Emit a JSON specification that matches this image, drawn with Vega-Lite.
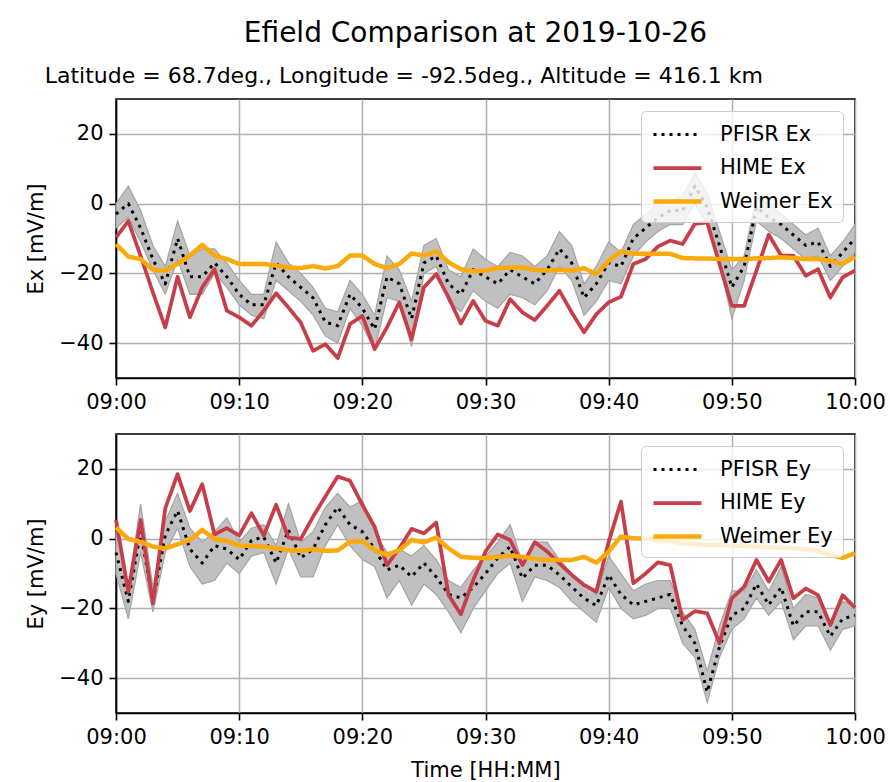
{
  "$schema": "https://vega.github.io/schema/vega-lite/v6.json",
  "background": "white",
  "padding": {"left": 24, "top": 20, "right": 4, "bottom": 4},
  "title": {"text": "Efield Comparison at 2019-10-26", "fontSize": 28, "font": "DejaVu Sans", "fontWeight": "normal", "color": "#000", "anchor": "middle", "offset": 16, "dx": 20},
  "datasets": {
    "ex": [
      {"t":0,"PFISR Ex":-3,"HIME Ex":-9.7,"Weimer Ex":-11.6,"lo":-7,"hi":0},
      {"t":1,"PFISR Ex":0,"HIME Ex":-5,"Weimer Ex":-15.2,"lo":-4,"hi":5},
      {"t":2,"PFISR Ex":-7,"HIME Ex":-15,"Weimer Ex":-15.9,"lo":-11,"hi":-2},
      {"t":3,"PFISR Ex":-16,"HIME Ex":-25.5,"Weimer Ex":-19,"lo":-19,"hi":-12},
      {"t":4,"PFISR Ex":-23,"HIME Ex":-35.5,"Weimer Ex":-19.2,"lo":-26,"hi":-18},
      {"t":5,"PFISR Ex":-10,"HIME Ex":-21,"Weimer Ex":-17.3,"lo":-16,"hi":-5},
      {"t":6,"PFISR Ex":-21,"HIME Ex":-32.6,"Weimer Ex":-14.9,"lo":-26,"hi":-15},
      {"t":7,"PFISR Ex":-21,"HIME Ex":-24,"Weimer Ex":-11.8,"lo":-26,"hi":-13},
      {"t":8,"PFISR Ex":-17,"HIME Ex":-18.8,"Weimer Ex":-14.9,"lo":-20,"hi":-13},
      {"t":9,"PFISR Ex":-21,"HIME Ex":-30.7,"Weimer Ex":-15.9,"lo":-24,"hi":-17},
      {"t":10,"PFISR Ex":-26,"HIME Ex":-32.6,"Weimer Ex":-17.3,"lo":-29,"hi":-22},
      {"t":11,"PFISR Ex":-29,"HIME Ex":-35,"Weimer Ex":-17.3,"lo":-32,"hi":-26},
      {"t":12,"PFISR Ex":-29,"HIME Ex":-30.7,"Weimer Ex":-17.3,"lo":-33,"hi":-26},
      {"t":13,"PFISR Ex":-17,"HIME Ex":-25.7,"Weimer Ex":-17.8,"lo":-22,"hi":-11},
      {"t":14,"PFISR Ex":-21,"HIME Ex":-29.8,"Weimer Ex":-18.3,"lo":-25,"hi":-17},
      {"t":15,"PFISR Ex":-24,"HIME Ex":-34.1,"Weimer Ex":-18.5,"lo":-28,"hi":-20},
      {"t":16,"PFISR Ex":-27,"HIME Ex":-42.2,"Weimer Ex":-17.9,"lo":-32,"hi":-24},
      {"t":17,"PFISR Ex":-34,"HIME Ex":-40.3,"Weimer Ex":-18.6,"lo":-38,"hi":-30},
      {"t":18,"PFISR Ex":-35,"HIME Ex":-44.3,"Weimer Ex":-17.9,"lo":-40,"hi":-31},
      {"t":19,"PFISR Ex":-26,"HIME Ex":-34.5,"Weimer Ex":-14.9,"lo":-30,"hi":-22},
      {"t":20,"PFISR Ex":-30,"HIME Ex":-32.2,"Weimer Ex":-14.9,"lo":-35,"hi":-26},
      {"t":21,"PFISR Ex":-36,"HIME Ex":-41.7,"Weimer Ex":-17.3,"lo":-42,"hi":-32},
      {"t":22,"PFISR Ex":-21,"HIME Ex":-35.5,"Weimer Ex":-18.5,"lo":-27,"hi":-15},
      {"t":23,"PFISR Ex":-23,"HIME Ex":-28.3,"Weimer Ex":-17.3,"lo":-28,"hi":-19},
      {"t":24,"PFISR Ex":-33,"HIME Ex":-38.9,"Weimer Ex":-14.3,"lo":-41,"hi":-28},
      {"t":25,"PFISR Ex":-17,"HIME Ex":-24,"Weimer Ex":-14.9,"lo":-20,"hi":-12},
      {"t":26,"PFISR Ex":-15,"HIME Ex":-20.2,"Weimer Ex":-13.7,"lo":-18,"hi":-10},
      {"t":27,"PFISR Ex":-23,"HIME Ex":-26.9,"Weimer Ex":-16.8,"lo":-28,"hi":-19},
      {"t":28,"PFISR Ex":-26,"HIME Ex":-34.4,"Weimer Ex":-18.8,"lo":-31,"hi":-21},
      {"t":29,"PFISR Ex":-19,"HIME Ex":-27.9,"Weimer Ex":-19.4,"lo":-25,"hi":-13},
      {"t":30,"PFISR Ex":-21,"HIME Ex":-33.6,"Weimer Ex":-19.2,"lo":-28,"hi":-16},
      {"t":31,"PFISR Ex":-23,"HIME Ex":-35,"Weimer Ex":-18.5,"lo":-30,"hi":-18},
      {"t":32,"PFISR Ex":-19,"HIME Ex":-27.4,"Weimer Ex":-18.3,"lo":-26,"hi":-14},
      {"t":33,"PFISR Ex":-21,"HIME Ex":-31.2,"Weimer Ex":-18.3,"lo":-27,"hi":-15},
      {"t":34,"PFISR Ex":-23,"HIME Ex":-33.4,"Weimer Ex":-19,"lo":-29,"hi":-18},
      {"t":35,"PFISR Ex":-19,"HIME Ex":-29.3,"Weimer Ex":-19.2,"lo":-25,"hi":-15},
      {"t":36,"PFISR Ex":-13,"HIME Ex":-25,"Weimer Ex":-19,"lo":-18,"hi":-8},
      {"t":37,"PFISR Ex":-17,"HIME Ex":-31.2,"Weimer Ex":-19.2,"lo":-22,"hi":-12},
      {"t":38,"PFISR Ex":-27,"HIME Ex":-36.9,"Weimer Ex":-18.5,"lo":-32,"hi":-23},
      {"t":39,"PFISR Ex":-23,"HIME Ex":-31.7,"Weimer Ex":-20.2,"lo":-28,"hi":-18},
      {"t":40,"PFISR Ex":-17,"HIME Ex":-28.3,"Weimer Ex":-16.4,"lo":-22,"hi":-11},
      {"t":41,"PFISR Ex":-18,"HIME Ex":-26.7,"Weimer Ex":-13.7,"lo":-23,"hi":-14},
      {"t":42,"PFISR Ex":-10,"HIME Ex":-17.3,"Weimer Ex":-14.4,"lo":-15,"hi":-6},
      {"t":43,"PFISR Ex":-7,"HIME Ex":-15.9,"Weimer Ex":-14.4,"lo":-11,"hi":-3},
      {"t":44,"PFISR Ex":-4,"HIME Ex":-12.3,"Weimer Ex":-14.4,"lo":-8,"hi":0},
      {"t":45,"PFISR Ex":-2,"HIME Ex":-10.6,"Weimer Ex":-14.4,"lo":-6,"hi":1},
      {"t":46,"PFISR Ex":-2,"HIME Ex":-11.6,"Weimer Ex":-15.6,"lo":-6,"hi":2},
      {"t":47,"PFISR Ex":5,"HIME Ex":-5.8,"Weimer Ex":-15.7,"lo":0,"hi":9},
      {"t":48,"PFISR Ex":-1,"HIME Ex":-5.4,"Weimer Ex":-15.7,"lo":-6,"hi":3},
      {"t":49,"PFISR Ex":-12,"HIME Ex":-17.3,"Weimer Ex":-15.9,"lo":-17,"hi":-8},
      {"t":50,"PFISR Ex":-24,"HIME Ex":-29.3,"Weimer Ex":-15.9,"lo":-33,"hi":-19},
      {"t":51,"PFISR Ex":-18,"HIME Ex":-29.3,"Weimer Ex":-15.9,"lo":-22,"hi":-15},
      {"t":52,"PFISR Ex":-1,"HIME Ex":-19.2,"Weimer Ex":-15.7,"lo":-5,"hi":2},
      {"t":53,"PFISR Ex":-4,"HIME Ex":-8.9,"Weimer Ex":-15.6,"lo":-8,"hi":0},
      {"t":54,"PFISR Ex":-6,"HIME Ex":-14.9,"Weimer Ex":-15.4,"lo":-10,"hi":-3},
      {"t":55,"PFISR Ex":-9,"HIME Ex":-14.9,"Weimer Ex":-15.6,"lo":-13,"hi":-6},
      {"t":56,"PFISR Ex":-12,"HIME Ex":-20.7,"Weimer Ex":-15.9,"lo":-16,"hi":-9},
      {"t":57,"PFISR Ex":-11,"HIME Ex":-18.8,"Weimer Ex":-15.9,"lo":-15,"hi":-7},
      {"t":58,"PFISR Ex":-18,"HIME Ex":-26.9,"Weimer Ex":-16.4,"lo":-22,"hi":-15},
      {"t":59,"PFISR Ex":-14,"HIME Ex":-21.1,"Weimer Ex":-17.3,"lo":-18,"hi":-11},
      {"t":60,"PFISR Ex":-10,"HIME Ex":-19.2,"Weimer Ex":-15.2,"lo":-14,"hi":-6}
    ],
    "ey": [
      {"t":0,"PFISR Ey":-4,"HIME Ey":5.4,"Weimer Ey":3.2,"lo":-10,"hi":2},
      {"t":1,"PFISR Ey":-18,"HIME Ey":-15.2,"Weimer Ey":-0.1,"lo":-23,"hi":-14},
      {"t":2,"PFISR Ey":2,"HIME Ey":5.4,"Weimer Ey":-0.9,"lo":-4,"hi":10},
      {"t":3,"PFISR Ey":-18,"HIME Ey":-18.6,"Weimer Ey":-2.3,"lo":-21,"hi":-14},
      {"t":4,"PFISR Ey":1,"HIME Ey":8.7,"Weimer Ey":-2.8,"lo":-4,"hi":5},
      {"t":5,"PFISR Ey":8,"HIME Ey":18.5,"Weimer Ey":-1.6,"lo":3,"hi":13},
      {"t":6,"PFISR Ey":-3,"HIME Ey":7.9,"Weimer Ey":-0.4,"lo":-8,"hi":3},
      {"t":7,"PFISR Ey":-7,"HIME Ey":15.6,"Weimer Ey":2.5,"lo":-13,"hi":-1},
      {"t":8,"PFISR Ey":-2,"HIME Ey":1.2,"Weimer Ey":-0.1,"lo":-12,"hi":2},
      {"t":9,"PFISR Ey":-3,"HIME Ey":3,"Weimer Ey":-0.7,"lo":-7,"hi":6},
      {"t":10,"PFISR Ey":-6,"HIME Ey":0.9,"Weimer Ey":-2,"lo":-10,"hi":-1},
      {"t":11,"PFISR Ey":-0.5,"HIME Ey":7.3,"Weimer Ey":-2.1,"lo":-5,"hi":3},
      {"t":12,"PFISR Ey":0.5,"HIME Ey":0.9,"Weimer Ey":-2.3,"lo":-4,"hi":4},
      {"t":13,"PFISR Ey":-7,"HIME Ey":9.7,"Weimer Ey":-2.8,"lo":-13,"hi":-2},
      {"t":14,"PFISR Ey":2.5,"HIME Ey":0.3,"Weimer Ey":-3.3,"lo":-3,"hi":10},
      {"t":15,"PFISR Ey":-5.5,"HIME Ey":-0.1,"Weimer Ey":-3.5,"lo":-11,"hi":-1},
      {"t":16,"PFISR Ey":-3,"HIME Ey":6.3,"Weimer Ey":-3,"lo":-11,"hi":2},
      {"t":17,"PFISR Ey":4,"HIME Ey":12.1,"Weimer Ey":-3.5,"lo":-2,"hi":9},
      {"t":18,"PFISR Ey":9,"HIME Ey":17.8,"Weimer Ey":-3.4,"lo":4,"hi":13},
      {"t":19,"PFISR Ey":4,"HIME Ey":16.6,"Weimer Ey":-0.9,"lo":-2,"hi":9},
      {"t":20,"PFISR Ey":2,"HIME Ey":9.7,"Weimer Ey":-0.7,"lo":-6,"hi":11},
      {"t":21,"PFISR Ey":-3,"HIME Ey":3.4,"Weimer Ey":-3.3,"lo":-8,"hi":2},
      {"t":22,"PFISR Ey":-9,"HIME Ey":-7.6,"Weimer Ey":-4.7,"lo":-17,"hi":-4},
      {"t":23,"PFISR Ey":-7.6,"HIME Ey":-2.8,"Weimer Ey":-3.3,"lo":-12,"hi":-3},
      {"t":24,"PFISR Ey":-10.9,"HIME Ey":2.8,"Weimer Ey":-0.4,"lo":-19,"hi":-5},
      {"t":25,"PFISR Ey":-7,"HIME Ey":1.5,"Weimer Ey":-1.1,"lo":-13,"hi":-2},
      {"t":26,"PFISR Ey":-11,"HIME Ey":4.6,"Weimer Ey":0.3,"lo":-16,"hi":-6},
      {"t":27,"PFISR Ey":-16,"HIME Ey":-16.2,"Weimer Ey":-2.8,"lo":-21,"hi":-12},
      {"t":28,"PFISR Ey":-17,"HIME Ey":-21.7,"Weimer Ey":-5.2,"lo":-27,"hi":-14},
      {"t":29,"PFISR Ey":-14,"HIME Ey":-11.9,"Weimer Ey":-5.5,"lo":-20,"hi":-9},
      {"t":30,"PFISR Ey":-10,"HIME Ey":-3.7,"Weimer Ey":-5.6,"lo":-15,"hi":-5},
      {"t":31,"PFISR Ey":-5.5,"HIME Ey":1.2,"Weimer Ey":-5.2,"lo":-10,"hi":-1},
      {"t":32,"PFISR Ey":-2.3,"HIME Ey":-0.4,"Weimer Ey":-4.9,"lo":-7,"hi":4},
      {"t":33,"PFISR Ey":-11.4,"HIME Ey":-7.6,"Weimer Ey":-5.2,"lo":-18,"hi":-7},
      {"t":34,"PFISR Ey":-7.6,"HIME Ey":-1,"Weimer Ey":-5.8,"lo":-11,"hi":-1},
      {"t":35,"PFISR Ey":-7.6,"HIME Ey":-3.7,"Weimer Ey":-6.1,"lo":-12,"hi":-1},
      {"t":36,"PFISR Ey":-10.4,"HIME Ey":-7.1,"Weimer Ey":-6.1,"lo":-14,"hi":-6},
      {"t":37,"PFISR Ey":-13.8,"HIME Ey":-10.4,"Weimer Ey":-6.1,"lo":-18,"hi":-10},
      {"t":38,"PFISR Ey":-17.1,"HIME Ey":-13.3,"Weimer Ey":-5.2,"lo":-21,"hi":-13},
      {"t":39,"PFISR Ey":-19.2,"HIME Ey":-15.2,"Weimer Ey":-6.9,"lo":-24,"hi":-16},
      {"t":40,"PFISR Ey":-10.4,"HIME Ey":-0.9,"Weimer Ey":-3.7,"lo":-14,"hi":-5},
      {"t":41,"PFISR Ey":-16,"HIME Ey":10.6,"Weimer Ey":0.6,"lo":-20,"hi":-10},
      {"t":42,"PFISR Ey":-19,"HIME Ey":-12.8,"Weimer Ey":0.1,"lo":-23,"hi":-15},
      {"t":43,"PFISR Ey":-18,"HIME Ey":-10,"Weimer Ey":0,"lo":-22,"hi":-13},
      {"t":44,"PFISR Ey":-17,"HIME Ey":-6.8,"Weimer Ey":-0.4,"lo":-20,"hi":-12},
      {"t":45,"PFISR Ey":-16,"HIME Ey":-7.6,"Weimer Ey":-0.7,"lo":-20,"hi":-12},
      {"t":46,"PFISR Ey":-25,"HIME Ey":-23.3,"Weimer Ey":-1.3,"lo":-30,"hi":-21},
      {"t":47,"PFISR Ey":-30,"HIME Ey":-20.8,"Weimer Ey":-1.6,"lo":-34,"hi":-26},
      {"t":48,"PFISR Ey":-44,"HIME Ey":-21.4,"Weimer Ey":-1.8,"lo":-47,"hi":-38},
      {"t":49,"PFISR Ey":-31,"HIME Ey":-30,"Weimer Ey":-1.8,"lo":-34,"hi":-25},
      {"t":50,"PFISR Ey":-22,"HIME Ey":-17.1,"Weimer Ey":-2,"lo":-26,"hi":-15},
      {"t":51,"PFISR Ey":-20,"HIME Ey":-13.8,"Weimer Ey":-2.1,"lo":-23,"hi":-15},
      {"t":52,"PFISR Ey":-13,"HIME Ey":-6.1,"Weimer Ey":-2.3,"lo":-17,"hi":-9},
      {"t":53,"PFISR Ey":-19,"HIME Ey":-12.3,"Weimer Ey":-2.4,"lo":-22,"hi":-15},
      {"t":54,"PFISR Ey":-14,"HIME Ey":-6.1,"Weimer Ey":-2.6,"lo":-18,"hi":-8},
      {"t":55,"PFISR Ey":-25,"HIME Ey":-17.1,"Weimer Ey":-2.8,"lo":-29,"hi":-20},
      {"t":56,"PFISR Ey":-21,"HIME Ey":-14.3,"Weimer Ey":-3,"lo":-25,"hi":-16},
      {"t":57,"PFISR Ey":-21,"HIME Ey":-16.2,"Weimer Ey":-3.5,"lo":-25,"hi":-17},
      {"t":58,"PFISR Ey":-28,"HIME Ey":-24.8,"Weimer Ey":-4.7,"lo":-32,"hi":-24},
      {"t":59,"PFISR Ey":-23,"HIME Ey":-16.2,"Weimer Ey":-5.5,"lo":-26,"hi":-18},
      {"t":60,"PFISR Ey":-22,"HIME Ey":-19.8,"Weimer Ey":-4.2,"lo":-25,"hi":-19}
    ]
  },
  "vconcat": [
    {
      "width": 739,
      "height": 279,
      "title": {"text": "Latitude = 68.7deg., Longitude = -92.5deg., Altitude = 416.1 km", "anchor": "start", "frame": "bounds", "dx": 19, "fontSize": 22, "fontWeight": "normal", "font": "DejaVu Sans", "color": "#000", "offset": 11},
      "data": {"name": "ex"},
      "layer": [
        {
          "mark": {"type": "area", "fill": "#c0c0c0", "stroke": "#a4a4a4", "strokeWidth": 1.2},
          "encoding": {
            "x": {"field": "t", "type": "quantitative", "scale": {"domain": [0, 60], "nice": false, "zero": false}, "axis": {"values": [0,10,20,30,40,50,60], "title": null, "labelExpr": "datum.value == 60 ? '10:00' : '09:' + (datum.value < 10 ? '0' : '') + datum.value"}},
            "y": {"field": "lo", "type": "quantitative", "scale": {"domain": [-50, 30], "nice": false, "zero": false}, "axis": {"values": [-40,-20,0,20], "title": "Ex [mV/m]"}},
            "y2": {"field": "hi"}
          }
        },
        {
          "transform": [{"fold": ["PFISR Ex", "HIME Ex", "Weimer Ex"], "as": ["series", "value"]}],
          "mark": {"type": "line", "strokeCap": "butt", "strokeJoin": "round"},
          "encoding": {
            "x": {"field": "t", "type": "quantitative"},
            "y": {"field": "value", "type": "quantitative"},
            "color": {"field": "series", "type": "nominal", "scale": {"domain": ["PFISR Ex", "HIME Ex", "Weimer Ex"], "range": ["#000000", "#c83e48", "#fbaa0a"]}, "legend": {"title": null, "orient": "top-right", "offset": 12}},
            "strokeDash": {"field": "series", "type": "nominal", "scale": {"domain": ["PFISR Ex", "HIME Ex", "Weimer Ex"], "range": [[3, 5], [1, 0], [1, 0]]}, "legend": {"title": null, "orient": "top-right", "offset": 12}},
            "strokeWidth": {"field": "series", "type": "nominal", "scale": {"domain": ["PFISR Ex", "HIME Ex", "Weimer Ex"], "range": [3, 4.5, 4.5]}, "legend": {"title": null, "orient": "top-right", "offset": 12}}
          }
        }
      ]
    },
    {
      "width": 739,
      "height": 279,
      "data": {"name": "ey"},
      "layer": [
        {
          "mark": {"type": "area", "fill": "#c0c0c0", "stroke": "#a4a4a4", "strokeWidth": 1.2},
          "encoding": {
            "x": {"field": "t", "type": "quantitative", "scale": {"domain": [0, 60], "nice": false, "zero": false}, "axis": {"values": [0,10,20,30,40,50,60], "title": "Time [HH:MM]", "labelExpr": "datum.value == 60 ? '10:00' : '09:' + (datum.value < 10 ? '0' : '') + datum.value"}},
            "y": {"field": "lo", "type": "quantitative", "scale": {"domain": [-50, 30], "nice": false, "zero": false}, "axis": {"values": [-40,-20,0,20], "title": "Ey [mV/m]"}},
            "y2": {"field": "hi"}
          }
        },
        {
          "transform": [{"fold": ["PFISR Ey", "HIME Ey", "Weimer Ey"], "as": ["series", "value"]}],
          "mark": {"type": "line", "strokeCap": "butt", "strokeJoin": "round"},
          "encoding": {
            "x": {"field": "t", "type": "quantitative"},
            "y": {"field": "value", "type": "quantitative"},
            "color": {"field": "series", "type": "nominal", "scale": {"domain": ["PFISR Ey", "HIME Ey", "Weimer Ey"], "range": ["#000000", "#c83e48", "#fbaa0a"]}, "legend": {"title": null, "orient": "top-right", "offset": 12}},
            "strokeDash": {"field": "series", "type": "nominal", "scale": {"domain": ["PFISR Ey", "HIME Ey", "Weimer Ey"], "range": [[3, 5], [1, 0], [1, 0]]}, "legend": {"title": null, "orient": "top-right", "offset": 12}},
            "strokeWidth": {"field": "series", "type": "nominal", "scale": {"domain": ["PFISR Ey", "HIME Ey", "Weimer Ey"], "range": [3, 4.5, 4.5]}, "legend": {"title": null, "orient": "top-right", "offset": 12}}
          }
        }
      ]
    }
  ],
  "spacing": 20,
  "resolve": {
    "scale": {"color": "independent", "strokeDash": "independent", "strokeWidth": "independent", "x": "independent", "y": "independent"},
    "legend": {"color": "independent", "strokeDash": "independent", "strokeWidth": "independent"}
  },
  "config": {
    "font": "DejaVu Sans",
    "view": {"stroke": "#000000", "strokeWidth": 1.6},
    "axis": {
      "labelFont": "DejaVu Sans", "labelFontSize": 21, "labelColor": "#000", "labelPadding": 6,
      "titleFont": "DejaVu Sans", "titleFontSize": 21, "titleFontWeight": "normal", "titleColor": "#000", "titlePadding": 12,
      "tickColor": "#000", "tickSize": 7, "tickWidth": 1.6,
      "domainColor": "#000", "domainWidth": 1.6,
      "gridColor": "#b0b0b0", "gridWidth": 1.5, "grid": true,
      "labelFlush": false, "labelOverlap": false
    },
    "legend": {
      "labelFont": "DejaVu Sans", "labelFontSize": 21, "labelColor": "#000",
      "symbolType": "M-1,0H3", "symbolSize": 576, "symbolStrokeWidth": 4.5,
      "labelOffset": 40, "rowPadding": 9, "padding": 10,
      "fillColor": "rgba(255,255,255,0.8)", "strokeColor": "#cccccc", "cornerRadius": 5
    }
  }
}
